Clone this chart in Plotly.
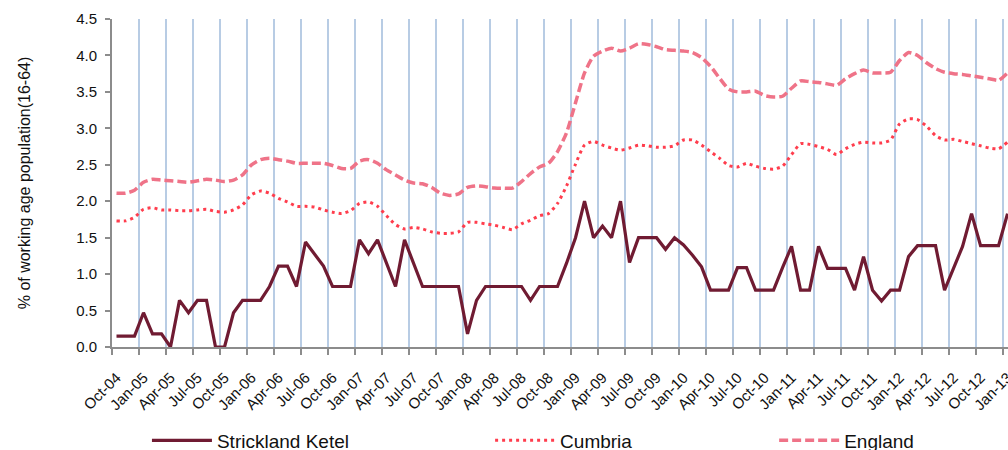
import pandas as pd
import plotly.graph_objects as go

# Categories: monthly, Oct-04 .. Jan-13
months = [d.strftime("%b-%y") for d in pd.date_range("2004-10-01", "2013-01-01", freq="MS")]

strickland = [0.15, 0.15, 0.15, 0.47, 0.18, 0.18, 0.0, 0.64, 0.47, 0.64,
              0.64, 0.0, 0.0, 0.47, 0.64, 0.64, 0.64, 0.83, 1.11, 1.11,
              0.83, 1.44, 1.27, 1.11, 0.83, 0.83, 0.83, 1.47, 1.28, 1.47,
              1.15, 0.83, 1.47, 1.15, 0.83, 0.83, 0.83, 0.83, 0.83, 0.18,
              0.64, 0.83, 0.83, 0.83, 0.83, 0.83, 0.64, 0.83, 0.83, 0.83,
              1.15, 1.50, 2.00, 1.50, 1.66, 1.50, 2.00, 1.16, 1.50, 1.50,
              1.50, 1.34, 1.50, 1.40, 1.26, 1.10, 0.78, 0.78, 0.78, 1.09,
              1.09, 0.78, 0.78, 0.78, 1.09, 1.38, 0.78, 0.78, 1.38, 1.08,
              1.08, 1.08, 0.78, 1.24, 0.78, 0.63, 0.78, 0.78, 1.24, 1.39,
              1.39, 1.39, 0.78, 1.08, 1.38, 1.83, 1.39, 1.39, 1.39, 1.83]

cumbria = [1.73, 1.73, 1.78, 1.89, 1.91, 1.88, 1.88, 1.87, 1.87, 1.88,
           1.89, 1.86, 1.85, 1.88, 1.95, 2.09, 2.14, 2.11, 2.04, 1.99,
           1.93, 1.93, 1.92, 1.88, 1.85, 1.83, 1.87, 1.97, 1.99, 1.93,
           1.80, 1.68, 1.62, 1.64, 1.62, 1.58, 1.56, 1.56, 1.58, 1.71,
           1.71, 1.69, 1.67, 1.64, 1.61, 1.69, 1.74, 1.80, 1.83, 1.97,
           2.21, 2.51, 2.77, 2.82, 2.77, 2.73, 2.70, 2.73, 2.77, 2.76,
           2.74, 2.74, 2.76, 2.84, 2.84, 2.77, 2.68, 2.59, 2.49, 2.47,
           2.52, 2.48, 2.45, 2.44, 2.48, 2.64, 2.79, 2.78, 2.75, 2.71,
           2.64, 2.72, 2.78, 2.81, 2.80, 2.80, 2.84, 3.06, 3.13, 3.12,
           3.03, 2.90, 2.84, 2.85, 2.82, 2.79, 2.76, 2.73, 2.72, 2.81]

england = [2.11, 2.11, 2.15, 2.26, 2.30, 2.29, 2.28, 2.27, 2.26, 2.28,
           2.30, 2.29, 2.27, 2.29, 2.36, 2.50, 2.57, 2.59, 2.57, 2.55,
           2.52, 2.52, 2.52, 2.52, 2.49, 2.45, 2.45, 2.55, 2.57, 2.52,
           2.43, 2.36, 2.29, 2.25, 2.24, 2.19, 2.11, 2.08, 2.10, 2.19,
           2.21, 2.20, 2.18, 2.18, 2.18, 2.27, 2.38, 2.47, 2.52, 2.68,
           2.94, 3.35, 3.76, 3.99, 4.06, 4.10, 4.06, 4.10, 4.16, 4.15,
           4.12, 4.08, 4.07, 4.06, 4.04, 3.97, 3.85, 3.69, 3.54, 3.50,
           3.50, 3.51, 3.45, 3.43, 3.44, 3.55, 3.65, 3.64, 3.63, 3.61,
           3.59, 3.68, 3.75, 3.80, 3.76, 3.76, 3.77, 3.93, 4.04, 4.00,
           3.90, 3.82, 3.77, 3.75, 3.74, 3.72, 3.70, 3.68, 3.66, 3.76]

y_ticks = [0.0, 0.5, 1.0, 1.5, 2.0, 2.5, 3.0, 3.5, 4.0, 4.5]

idx = list(range(len(months)))
label_idx = idx[::3]
label_txt = [months[i] for i in label_idx]

FONT = "Liberation Sans, Arial, sans-serif"

fig = go.Figure()
fig.add_trace(go.Scatter(x=idx, y=strickland, mode="lines", name="Strickland Ketel",
                         line=dict(color="#701B32", width=3.2), legend="legend", showlegend=True))
fig.add_trace(go.Scatter(x=idx, y=cumbria, mode="lines", name="Cumbria",
                         line=dict(color="#FF3D4D", width=3, dash="3px,4px", shape="spline", smoothing=0.6),
                         legend="legend2", showlegend=True))
fig.add_trace(go.Scatter(x=idx, y=england, mode="lines", name="England",
                         line=dict(color="#EF7388", width=3.5, dash="9px,4px", shape="spline", smoothing=0.6),
                         legend="legend3", showlegend=True))

def leg(xpos):
    return dict(orientation="h", yanchor="middle", y=-0.285, xanchor="left", x=xpos,
                xref="paper", yref="paper", visible=True,
                font=dict(family=FONT, size=19, color="#111111"),
                bgcolor="rgba(0,0,0,0)", itemwidth=60)

fig.update_layout(
    width=1008, height=450,
    margin=dict(l=112, r=0, t=19, b=103, autoexpand=False),
    paper_bgcolor="white", plot_bgcolor="white",
    font=dict(family=FONT, color="#111111"),
    showlegend=True,
    legend=leg(0.039),
    legend2=leg(0.422),
    legend3=leg(0.739),
    xaxis=dict(
        range=[-0.5, 99.05], automargin=False,
        tickmode="array", tickvals=label_idx, ticktext=label_txt,
        tickangle=-45, ticks="", showgrid=False, zeroline=False,
        tickfont=dict(family=FONT, size=15, color="#111111"),
        showline=True, linecolor="#8C8C8C", linewidth=2,
        ticklabelstandoff=14, ticklabeloverflow="allow",
        minor=dict(tick0=-0.5, dtick=3, ticks="outside", ticklen=6,
                   tickcolor="#8C8C8C", tickwidth=1.5,
                   showgrid=True, gridcolor="#B8CCE4", gridwidth=1.5),
    ),
    yaxis=dict(
        range=[0, 4.5], automargin=False, tickmode="array", tickvals=y_ticks,
        ticktext=[f"{v:.1f}" for v in y_ticks],
        ticks="outside", ticklen=5, tickcolor="#8C8C8C", tickwidth=1.5,
        ticklabelstandoff=5,
        showgrid=False, zeroline=False,
        showline=True, linecolor="#8C8C8C", linewidth=2,
        tickfont=dict(family=FONT, size=15, color="#111111"),
        title=dict(text="% of working age population(16-64)",
                   font=dict(family=FONT, size=16, color="#111111"), standoff=42),
    ),
)

fig.write_html("out.html", config={"displayModeBar": False},
               post_script="document.body.style.margin='0';document.body.style.overflow='hidden';")
